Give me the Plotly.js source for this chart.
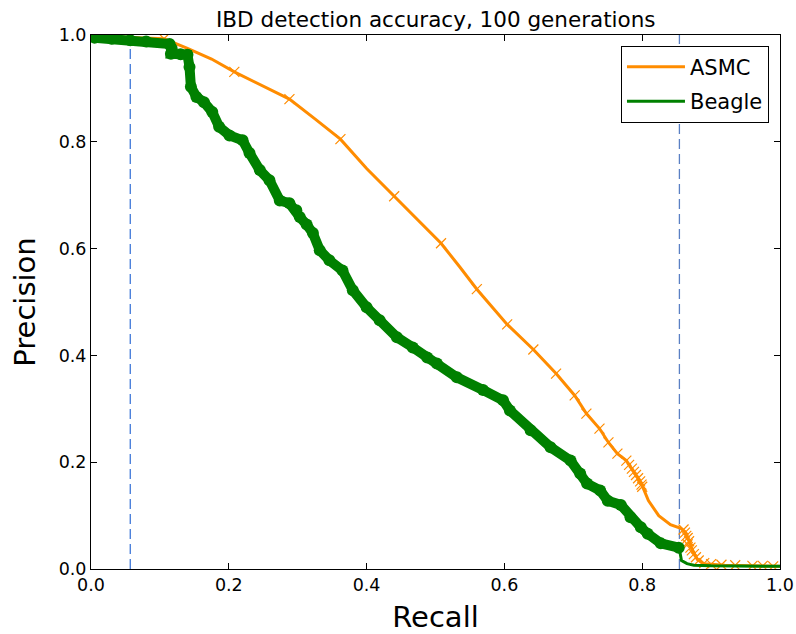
<!DOCTYPE html>
<html>
<head>
<meta charset="utf-8">
<script src="https://cdn.plot.ly/plotly-3.0.1.min.js"></script>
<style>html,body{margin:0;padding:0;background:#fff;}#chart{width:796px;height:634px;}</style>
</head>
<body>
<div id="chart"></div>
<script>
// ASMC precision-recall curve (full line)
const asmcRecall = [0.005,0.03,0.06,0.106,0.14,0.175,0.208,0.25,0.288,0.325,0.362,0.40,0.440,0.475,0.508,0.535,0.560,0.604,0.642,0.675,0.702,0.719,0.738,0.751,0.764,0.777,0.785,0.791,0.797,0.800,0.809,0.824,0.841,0.856,0.862,0.866,0.870,0.875,0.880,0.889,0.92,0.96,1.0];
const asmcPrecision = [0.998,0.997,0.996,0.993,0.975,0.955,0.931,0.905,0.880,0.843,0.805,0.750,0.698,0.652,0.610,0.566,0.524,0.458,0.411,0.366,0.325,0.291,0.263,0.237,0.216,0.203,0.188,0.176,0.164,0.156,0.128,0.100,0.083,0.076,0.070,0.058,0.044,0.030,0.018,0.010,0.007,0.006,0.005];
// ASMC marked thresholds
const asmcMarkRecall = [0.106,0.208,0.288,0.362,0.440,0.508,0.560,0.604,0.642,0.675,0.702,0.719,0.738,0.751,0.764,0.777,0.781,0.785,0.788,0.791,0.794,0.797,0.799,0.800,0.860,0.862,0.864,0.866,0.868,0.866,0.870,0.872,0.875,0.878,0.882,0.890,0.900,0.915,0.935,0.960,0.975,0.990];
const asmcMarkPrecision = [0.993,0.931,0.880,0.805,0.698,0.610,0.524,0.458,0.411,0.366,0.325,0.291,0.263,0.237,0.216,0.203,0.195,0.188,0.182,0.176,0.170,0.164,0.158,0.154,0.074,0.068,0.062,0.058,0.052,0.046,0.040,0.035,0.028,0.022,0.016,0.011,0.009,0.008,0.007,0.006,0.006,0.005];
// Beagle precision-recall curve (marked part)
const beagleRecall = [0.005,0.03,0.057,0.08,0.114,0.117,0.116,0.13,0.14,0.143,0.145,0.153,0.164,0.176,0.186,0.201,0.220,0.230,0.245,0.259,0.274,0.288,0.298,0.303,0.313,0.322,0.332,0.346,0.365,0.380,0.400,0.419,0.444,0.467,0.488,0.502,0.531,0.569,0.598,0.608,0.638,0.667,0.696,0.710,0.720,0.739,0.750,0.769,0.783,0.798,0.808,0.827,0.853];
const beaglePrecision = [0.995,0.993,0.990,0.988,0.983,0.975,0.965,0.964,0.963,0.940,0.903,0.884,0.874,0.856,0.828,0.812,0.803,0.779,0.747,0.728,0.690,0.685,0.672,0.659,0.645,0.629,0.597,0.578,0.559,0.522,0.490,0.466,0.434,0.415,0.396,0.385,0.359,0.335,0.316,0.297,0.260,0.228,0.203,0.179,0.160,0.147,0.128,0.120,0.097,0.078,0.066,0.048,0.040];
// Beagle tail (unmarked)
const beagleTailRecall = [0.855,0.857,0.865,0.875,0.90,1.0];
const beagleTailPrecision = [0.030,0.016,0.010,0.007,0.006,0.005];
// vertical reference recall values
const refRecall = [0.057, 0.854];
const refColors = ['#3f78d8', '#5a80c4'];
const xTicks = [0,0.2,0.4,0.6,0.8,1.0];
const yTicks = [0,0.2,0.4,0.6,0.8,1.0];

const orange = '#ff8c00';
const green = '#008000';
const font = 'DejaVu Sans, sans-serif';

const traces = [
  {x: asmcRecall, y: asmcPrecision, mode: 'lines', name: 'ASMC', legendgroup: 'a',
   line: {color: orange, width: 3}},
  {x: asmcMarkRecall, y: asmcMarkPrecision, mode: 'markers', showlegend: false, legendgroup: 'a',
   marker: {symbol: 'x-thin-open', size: 10, color: orange, line: {color: orange, width: 1.2}}},
  {x: beagleRecall.concat(beagleTailRecall), y: beaglePrecision.concat(beagleTailPrecision), mode: 'lines', name: 'Beagle', legendgroup: 'b',
   line: {color: green, width: 3}},
  {x: beagleRecall, y: beaglePrecision, mode: 'lines+markers', showlegend: false, legendgroup: 'b',
   line: {color: green, width: 10}, marker: {symbol: 'circle', size: 12, color: green}}
];

const shapes = refRecall.map((r, i) => ({
  type: 'line', xref: 'x', yref: 'paper', x0: r, x1: r, y0: 0, y1: 1,
  line: {color: refColors[i], width: 1.3, dash: '10px,5px'}, layer: 'below'
}));

const axisCommon = {
  range: [0, 1], showgrid: false, zeroline: false, showline: true, linecolor: '#000', linewidth: 1,
  mirror: 'allticks', ticks: 'inside', ticklen: 6, tickcolor: '#000', tickwidth: 1,
  tickfont: {family: font, size: 17.5, color: '#000'}, tickformat: '.1f'
};

const layout = {
  width: 796, height: 634,
  margin: {l: 91, r: 16, t: 35, b: 65},
  paper_bgcolor: '#fff', plot_bgcolor: '#fff',
  title: {text: 'IBD detection accuracy, 100 generations', font: {family: font, size: 21.5, color: '#000'},
          x: 0.5475, xanchor: 'center', y: 0.97, yanchor: 'middle'},
  xaxis: Object.assign({}, axisCommon, {tickvals: xTicks, title: {text: 'Recall', font: {family: font, size: 29, color: '#000'}, standoff: 12}}),
  yaxis: Object.assign({}, axisCommon, {tickvals: yTicks, title: {text: 'Precision', font: {family: font, size: 29, color: '#000'}, standoff: 14}}),
  showlegend: true,
  legend: {x: 0.984, xanchor: 'right', y: 0.98, yanchor: 'top', bgcolor: '#fff',
           bordercolor: '#000', borderwidth: 1, font: {family: font, size: 21, color: '#000'},
           traceorder: 'grouped', tracegroupgap: 4, itemwidth: 58},
  shapes: shapes
};

Plotly.newPlot('chart', traces, layout, {displayModeBar: false, staticPlot: true});
</script>
</body>
</html>
